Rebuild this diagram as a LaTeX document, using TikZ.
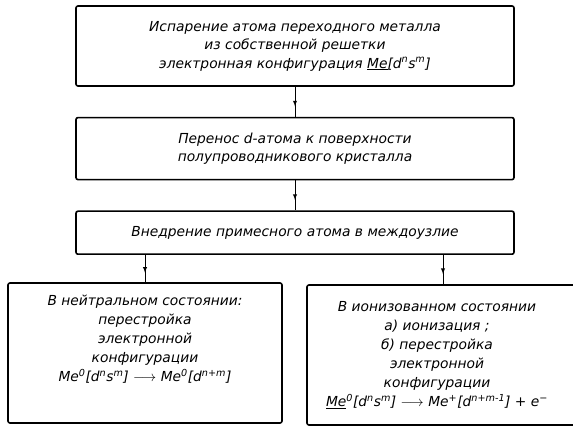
\documentclass[tikz,border=0pt]{standalone}
\usepackage{fontspec}
\setmainfont{DejaVu Sans}[ItalicFont={DejaVu Sans Oblique}]
\usetikzlibrary{positioning}
\usetikzlibrary{decorations.markings}

\begin{document}
\begin{tikzpicture}
[
x=1pt, y=1pt,
box-a/.style={draw, line width=1.6pt, rounded corners=2pt, inner sep=0pt, align=center, font=\itshape\fontsize{13.8}{18.5}\selectfont},
text-a/.style={black, align=center, font=\itshape\fontsize{13.8}{19}\selectfont},
arrow-a/.style={line width=0.9pt, postaction={decorate}, decoration={markings, mark=at position 0.65 with {\arrow{latex}}}},
]
\useasboundingbox (0,0) rectangle (573,-427);
\node (n1) [box-a, minimum width=438pt, minimum height=80pt] at (295,-46)
  {Испарение атома переходного металла\\ из собственной решетки\\ электронная конфигурация \underline{Me}[d\textsuperscript{n}s\textsuperscript{m}]};
\node (n2) [box-a, minimum width=438pt, minimum height=62pt, below = 30pt of n1]
  {Перенос d-атома к поверхности\\ полупроводникового кристалла};
\node (n3) [box-a, minimum width=438pt, minimum height=43pt, below = 30pt of n2]
  {Внедрение примесного атома в междоузлие};
\node (n4) [box-a, minimum width=274pt, minimum height=140pt] at (145,-353) {};
\node (t4) [text-a] at ([yshift=14pt]n4.center)
  {В нейтральном состоянии:\\ перестройка\\ электронной\\ конфигурации\\
   Me\textsuperscript{0}[d\textsuperscript{n}s\textsuperscript{m}] $\longrightarrow$ Me\textsuperscript{0}[d\textsuperscript{n+m}]};
\node (n5) [box-a, minimum width=272pt, minimum height=140pt] at (443,-355) {};
\node (t5) [text-a] at ([xshift=-6pt]n5.center)
  {В ионизованном состоянии\\ а) ионизация ;\\ б) перестройка\\ электронной\\ конфигурации\\
   \underline{Me}\textsuperscript{0}[d\textsuperscript{n}s\textsuperscript{m}] $\longrightarrow$ Me\textsuperscript{+}[d\textsuperscript{n+m-1}] + e\textsuperscript{−}};
\draw [arrow-a] (n1) -- (n2);
\draw [arrow-a] (n2) -- (n3);
\draw [arrow-a] (n4.north |- n3.south) -- (n4.north);
\draw [arrow-a] (n5.north |- n3.south) -- (n5.north);
\end{tikzpicture}
\end{document}
